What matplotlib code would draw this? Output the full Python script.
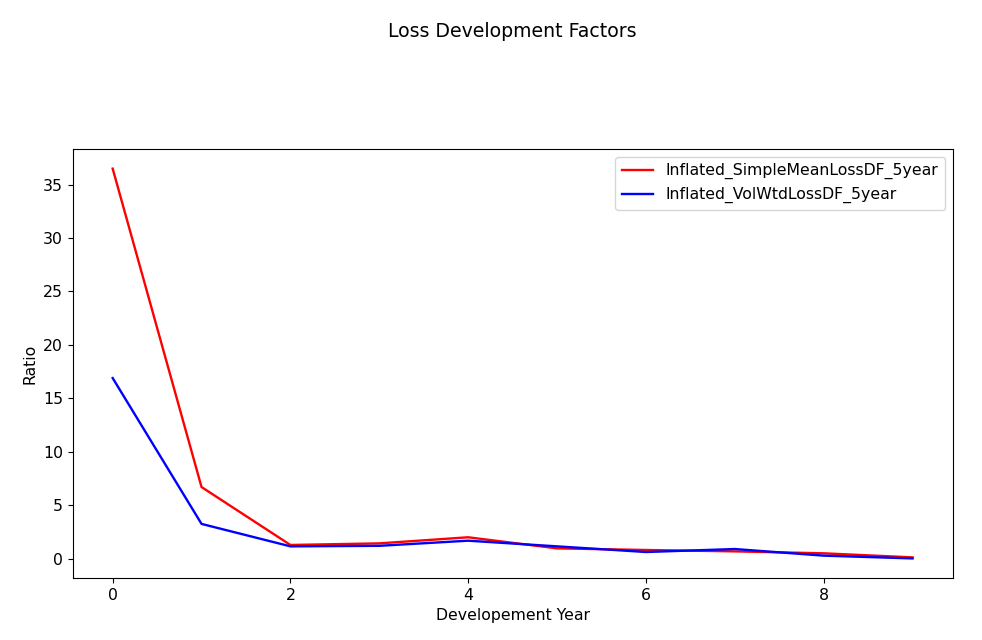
import matplotlib
matplotlib.use('Agg')
import matplotlib.pyplot as plt

dev_year = [0, 1, 2, 3, 4, 5, 6, 7, 8, 9]
simple_mean = [36.5, 6.7, 1.28, 1.43, 2.0, 0.96, 0.81, 0.68, 0.5, 0.12]
vol_wtd = [16.9, 3.25, 1.15, 1.2, 1.68, 1.15, 0.62, 0.9, 0.28, 0.02]

plt.rcParams['font.size'] = 11.3
plt.rcParams['lines.linewidth'] = 1.7

fig = plt.figure(figsize=(9.82, 6.4), dpi=100)
ax = fig.add_axes([0.074, 0.097, 0.896, 0.670])
ax.plot(dev_year, simple_mean, color='red', label='Inflated_SimpleMeanLossDF_5year')
ax.plot(dev_year, vol_wtd, color='blue', label='Inflated_VolWtdLossDF_5year')
ax.set_xlabel('Developement Year')
ax.set_ylabel('Ratio')
ax.legend(loc='upper right')
fig.suptitle('Loss Development Factors', x=0.522, y=0.965)

plt.savefig('out.png', dpi=100)
